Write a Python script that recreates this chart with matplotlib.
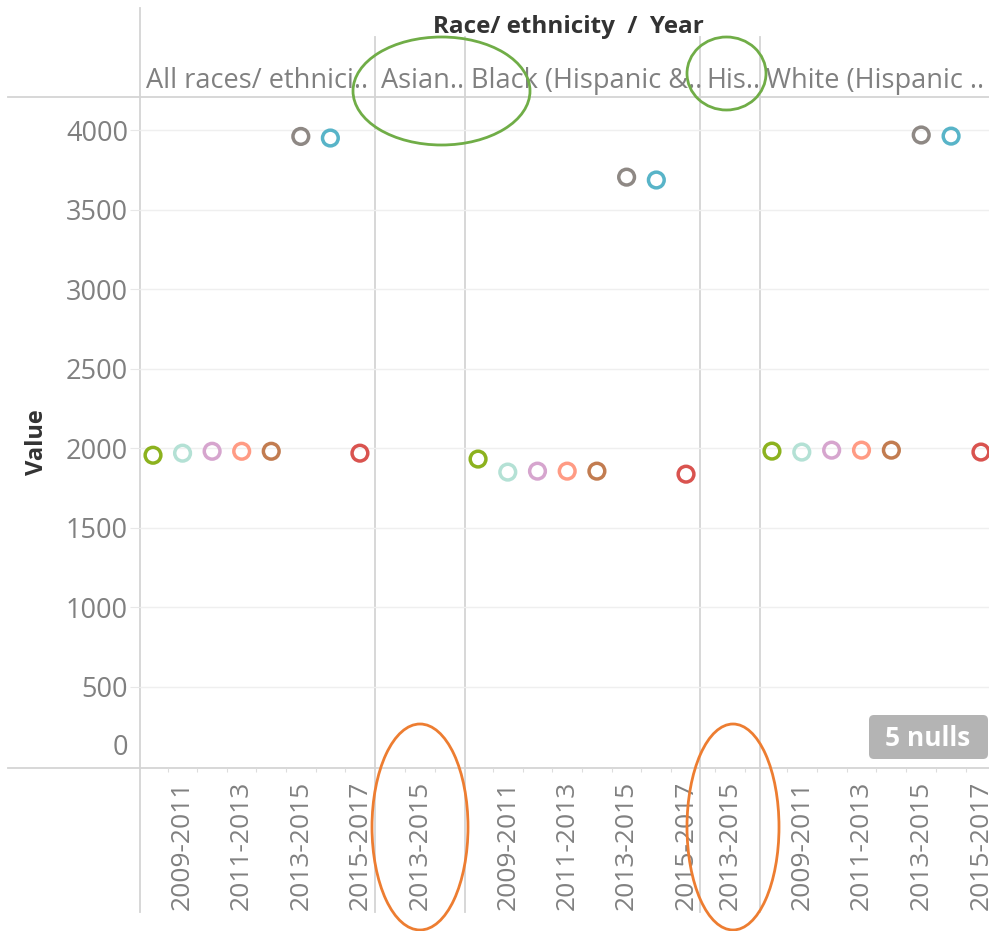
import numpy as np
import matplotlib.pyplot as plt
from matplotlib.patches import Ellipse, FancyBboxPatch

plt.rcParams['font.family'] = ['Open Sans', 'DejaVu Sans']

# data
races = ["All races/ ethnici..", "Asian..", "Black (Hispanic &..", "His..", "White (Hispanic .."]
years = ["2008-2010", "2009-2011", "2010-2012", "2011-2013",
         "2012-2014", "2013-2015", "2014-2016", "2015-2017"]
year_colors = ["#8CB21E", "#B4E1D5", "#D6A5CE", "#FF9B84",
               "#C27C50", "#8E8884", "#58B4C8", "#D9534F"]

all_races = [1955, 1968, 1980, 1980, 1980, 3960, 3950, 1968]
asian = [np.nan]          # only 2013-2015, null
black = [1931, 1849, 1855, 1855, 1855, 3704, 3686, 1836]
hispanic = [np.nan]       # only 2013-2015, null
white = [1981, 1975, 1987, 1987, 1987, 3969, 3962, 1975]

panel_years = [years, ["2013-2015"], years, ["2013-2015"], years]
panel_vals = [all_races, asian, black, hispanic, white]
n_nulls = 5

W, H = 989, 931
fig = plt.figure(figsize=(W / 100, H / 100), dpi=100)

# background frame (pixel coordinates)
bg = fig.add_axes([0, 0, 1, 1], zorder=0)
bg.set_xlim(0, W)
bg.set_ylim(H, 0)
bg.axis('off')

top, bottom = 97, 768
line_c = '#d4d4d4'
bg.plot([8, W], [top, top], color=line_c, lw=1.3)
bg.plot([8, W], [bottom, bottom], color=line_c, lw=1.3)
bg.plot([140, 140], [8, 912], color=line_c, lw=1.3)

# panel extents in pixels and x-limits in category units
panel_px = [(140, 375, -0.44, 7.51), (375, 465, -1.5, 1.5), (465, 700, -0.44, 7.47),
            (700, 760, -1.0, 1.0), (760, 989, -0.40, 7.27)]

bg.text(568, 33, "Race/ ethnicity  /  Year", ha='center', va='baseline',
        fontsize=17.5, fontweight='bold', color='#333333')
fig.text(37 / W, 1 - 442 / H, "Value", rotation=90, ha='center', va='center',
         fontsize=17, fontweight='bold', color='#333333')

gray_txt = '#808080'
for i, (name, yrs, vals) in enumerate(zip(races, panel_years, panel_vals)):
    x0, x1, lo, hi = panel_px[i]
    if i > 0:
        bg.plot([x0, x0], [37, 912], color=line_c, lw=1.3)
    bg.text(x0 + 6, 88, name, ha='left', va='baseline', fontsize=19.5, color=gray_txt)

    ax = fig.add_axes([x0 / W, 1 - bottom / H, (x1 - x0) / W, (bottom - top) / H], zorder=1)
    ax.patch.set_alpha(0)
    ax.set_xlim(lo, hi)
    ax.set_ylim(-12, 4208)
    for s in ax.spines.values():
        s.set_visible(False)

    for v in range(500, 4001, 500):
        ax.axhline(v, color='#efefef', lw=1, zorder=0)

    xs = np.arange(len(yrs))
    cols = [year_colors[years.index(y)] for y in yrs]
    ax.scatter(xs, vals, s=128, facecolors='none', edgecolors=cols, linewidths=2.5, zorder=3)

    ax.set_xticks(xs)
    if len(yrs) > 2:
        ax.set_xticklabels([y if k % 2 == 1 else '' for k, y in enumerate(yrs)])
        ax.set_xticks(xs[:-1] + 0.5, minor=True)
    else:
        ax.set_xticklabels(yrs)
        ax.set_xticks([-0.5, 0.5], minor=True)
    ax.tick_params(axis='x', which='major', length=0, pad=9, labelrotation=90,
                   labelsize=19, labelcolor=gray_txt)
    ax.tick_params(axis='x', which='minor', length=3, width=0.8, color='#dddddd')

    if i == 0:
        ax.set_yticks(range(500, 4001, 500))
        ax.tick_params(axis='y', length=7.2, width=0.8, color='#e8e8e8', pad=1.5,
                       labelsize=19.5, labelcolor=gray_txt)
        ax.annotate("0", xy=(0, 0), xycoords=('axes fraction', 'data'),
                    xytext=(-12, 18), textcoords='offset pixels', ha='right',
                    va='center', fontsize=19.5, color=gray_txt)
    else:
        ax.set_yticks([])

# overlay: null badge and hand-drawn annotation ellipses
fg = fig.add_axes([0, 0, 1, 1], zorder=3)
fg.set_xlim(0, W)
fg.set_ylim(H, 0)
fg.axis('off')
fg.patch.set_alpha(0)

fg.add_patch(FancyBboxPatch((869, 715), 119, 44, boxstyle='round,pad=0,rounding_size=5',
                            fc='#b4b4b4', ec='none'))
fg.text(928, 738, f"{n_nulls} nulls", ha='center', va='center', color='white',
        fontsize=19, fontweight='bold')

green, orange = '#70ad47', '#ed7d31'
fg.add_patch(Ellipse((441.5, 91), 177, 108, fill=False, ec=green, lw=2))
fg.add_patch(Ellipse((726.5, 73.5), 79, 73, fill=False, ec=green, lw=2))
fg.add_patch(Ellipse((420, 827), 96, 206, fill=False, ec=orange, lw=2))
fg.add_patch(Ellipse((733, 827), 92, 206, fill=False, ec=orange, lw=2))

fig.savefig('out.png', dpi=100)
